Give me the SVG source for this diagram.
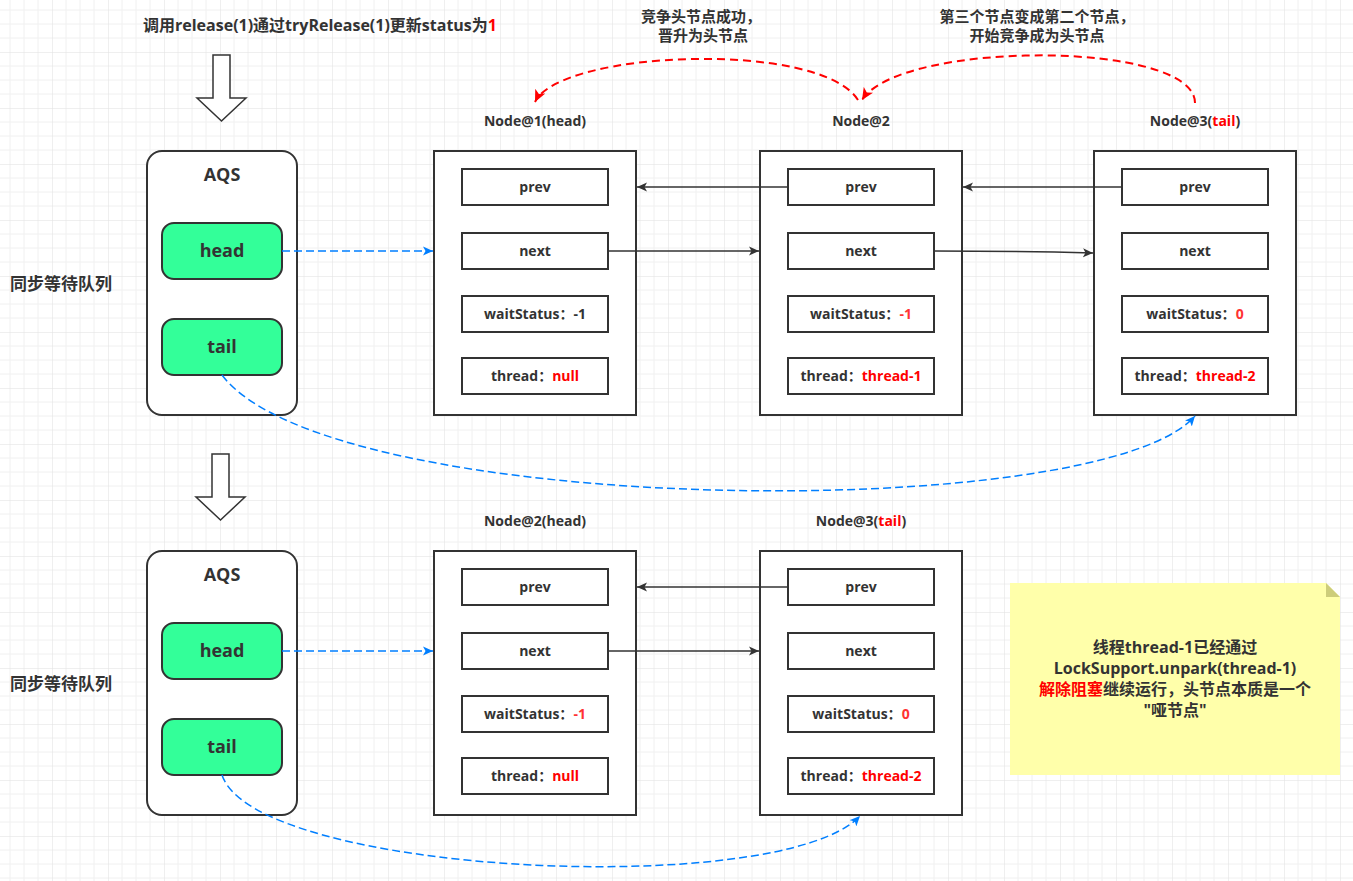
<svg xmlns="http://www.w3.org/2000/svg" width="1353" height="881" viewBox="0 0 1353 881">
<style>
.box{fill:#fff;stroke:#333;stroke-width:2}
.fld{fill:#fff;stroke:#333;stroke-width:2}
.aqs{fill:#fff;stroke:#333;stroke-width:2}
.ptr{fill:#33ff99;stroke:#333;stroke-width:2}
.t{font-family:"Open Sans","Noto Sans CJK SC",sans-serif;font-weight:bold;fill:#333}
.f{font-size:14px;text-anchor:middle}
.red{fill:#ff0000}
.lred{fill:#ff3333}
.conn{stroke:#333;stroke-width:1.5;fill:none}
.blue{stroke:#007fff;stroke-width:1.5;stroke-dasharray:8 4;fill:none}
.rdash{stroke:#ff0000;stroke-width:2;stroke-dasharray:8 5;fill:none}
.hollow{fill:#fff;stroke:#333;stroke-width:1.5}
</style>
<defs>
<pattern id="grid" patternUnits="userSpaceOnUse" x="-4" y="-4" width="56" height="56">
<path d="M14,0V56M28,0V56M42,0V56M0,14H56M0,28H56M0,42H56" stroke="#f0f0f0" stroke-width="1" fill="none"/>
<path d="M0,0V56M0,0H56" stroke="#e0e0e0" stroke-width="1" fill="none"/>
</pattern>
<marker id="ab" markerUnits="userSpaceOnUse" markerWidth="12" markerHeight="10" refX="10" refY="5" orient="auto">
<path d="M0,0.5L10,5L0,9.5L2.5,5z" fill="#333"/>
</marker>
<marker id="abl" markerUnits="userSpaceOnUse" markerWidth="12" markerHeight="10" refX="10" refY="5" orient="auto">
<path d="M0,0.5L10,5L0,9.5L2.5,5z" fill="#007fff"/>
</marker>
<marker id="ar" markerUnits="userSpaceOnUse" markerWidth="14" markerHeight="12" refX="12" refY="6" orient="auto">
<path d="M0,0.5L12,6L0,11.5L3,6z" fill="#ff0000"/>
</marker>
</defs>
<rect width="1353" height="881" fill="#fff"/>
<rect width="1353" height="881" fill="url(#grid)"/>

<text class="t" x="320" y="31" font-size="16" text-anchor="middle">调用release(1)通过tryRelease(1)更新status为<tspan class="red">1</tspan></text>
<text class="t" x="701" y="22" font-size="15" text-anchor="middle">竞争头节点成功，</text>
<text class="t" x="703" y="41" font-size="15" text-anchor="middle">晋升为头节点</text>
<text class="t" x="1037" y="22" font-size="15" text-anchor="middle">第三个节点变成第二个节点，</text>
<text class="t" x="1037" y="41" font-size="15" text-anchor="middle">开始竞争成为头节点</text>

<polygon class="hollow" points="213,55 230,55 230,98 246,98 221.5,121 197,98 213,98"/>
<polygon class="hollow" points="212,454 229,454 229,497 245,497 220.5,520 196,497 212,497"/>

<text class="t" x="61" y="290" font-size="17" text-anchor="middle">同步等待队列</text>
<text class="t" x="61" y="690" font-size="17" text-anchor="middle">同步等待队列</text>

<g id="aqs1">
<rect class="aqs" x="147" y="151" width="150" height="264" rx="15"/>
<text class="t" x="222" y="181" font-size="18" text-anchor="middle">AQS</text>
</g>
<g id="aqs1-head">
<rect class="ptr" x="162" y="223" width="120" height="56" rx="12"/>
<text class="t" x="222" y="257" font-size="18" text-anchor="middle">head</text>
</g>
<g id="aqs1-tail">
<rect class="ptr" x="162" y="319" width="120" height="56" rx="12"/>
<text class="t" x="222" y="353" font-size="18" text-anchor="middle">tail</text>
</g>

<g id="node1">
<text class="t" x="535" y="126" font-size="14" text-anchor="middle">Node@1(head)</text>
<rect class="box" x="434" y="151" width="202" height="264"/>
<rect class="fld" x="462" y="169" width="146" height="36"/>
<text class="t f" x="535" y="192">prev</text>
<rect class="fld" x="462" y="233" width="146" height="36"/>
<text class="t f" x="535" y="256">next</text>
<rect class="fld" x="462" y="296" width="146" height="36"/>
<text class="t f" x="535" y="319">waitStatus：-1</text>
<rect class="fld" x="462" y="358" width="146" height="36"/>
<text class="t f" x="535" y="381">thread：<tspan class="red">null</tspan></text>
</g>

<g id="node2">
<text class="t" x="861" y="126" font-size="14" text-anchor="middle">Node@2</text>
<rect class="box" x="760" y="151" width="202" height="264"/>
<rect class="fld" x="788" y="169" width="146" height="36"/>
<text class="t f" x="861" y="192">prev</text>
<rect class="fld" x="788" y="233" width="146" height="36"/>
<text class="t f" x="861" y="256">next</text>
<rect class="fld" x="788" y="296" width="146" height="36"/>
<text class="t f" x="861" y="319">waitStatus：<tspan class="lred">-1</tspan></text>
<rect class="fld" x="788" y="358" width="146" height="36"/>
<text class="t f" x="861" y="381">thread：<tspan class="red">thread-1</tspan></text>
</g>

<g id="node3">
<text class="t" x="1195" y="126" font-size="14" text-anchor="middle">Node@3(<tspan class="red">tail</tspan>)</text>
<rect class="box" x="1094" y="151" width="202" height="264"/>
<rect class="fld" x="1122" y="169" width="146" height="36"/>
<text class="t f" x="1195" y="192">prev</text>
<rect class="fld" x="1122" y="233" width="146" height="36"/>
<text class="t f" x="1195" y="256">next</text>
<rect class="fld" x="1122" y="296" width="146" height="36"/>
<text class="t f" x="1195" y="319">waitStatus：<tspan class="lred">0</tspan></text>
<rect class="fld" x="1122" y="358" width="146" height="36"/>
<text class="t f" x="1195" y="381">thread：<tspan class="red">thread-2</tspan></text>
</g>

<g id="aqs2">
<rect class="aqs" x="147" y="551" width="150" height="264" rx="15"/>
<text class="t" x="222" y="581" font-size="18" text-anchor="middle">AQS</text>
</g>
<g id="aqs2-head">
<rect class="ptr" x="162" y="623" width="120" height="56" rx="12"/>
<text class="t" x="222" y="657" font-size="18" text-anchor="middle">head</text>
</g>
<g id="aqs2-tail">
<rect class="ptr" x="162" y="719" width="120" height="56" rx="12"/>
<text class="t" x="222" y="753" font-size="18" text-anchor="middle">tail</text>
</g>

<g id="node2b">
<text class="t" x="535" y="526" font-size="14" text-anchor="middle">Node@2(head)</text>
<rect class="box" x="434" y="551" width="202" height="264"/>
<rect class="fld" x="462" y="569" width="146" height="36"/>
<text class="t f" x="535" y="592">prev</text>
<rect class="fld" x="462" y="633" width="146" height="36"/>
<text class="t f" x="535" y="656">next</text>
<rect class="fld" x="462" y="696" width="146" height="36"/>
<text class="t f" x="535" y="719">waitStatus：<tspan class="lred">-1</tspan></text>
<rect class="fld" x="462" y="758" width="146" height="36"/>
<text class="t f" x="535" y="781">thread：<tspan class="red">null</tspan></text>
</g>

<g id="node3b">
<text class="t" x="861" y="526" font-size="14" text-anchor="middle">Node@3(<tspan class="red">tail</tspan>)</text>
<rect class="box" x="760" y="551" width="202" height="264"/>
<rect class="fld" x="788" y="569" width="146" height="36"/>
<text class="t f" x="861" y="592">prev</text>
<rect class="fld" x="788" y="633" width="146" height="36"/>
<text class="t f" x="861" y="656">next</text>
<rect class="fld" x="788" y="696" width="146" height="36"/>
<text class="t f" x="861" y="719">waitStatus：<tspan class="lred">0</tspan></text>
<rect class="fld" x="788" y="758" width="146" height="36"/>
<text class="t f" x="861" y="781">thread：<tspan class="red">thread-2</tspan></text>
</g>

<g id="note">
<path d="M1010,583H1326L1340,597V775H1010z" fill="#ffffaa"/>
<path d="M1326,583L1340,597H1326z" fill="#cdcd7a"/>
<text class="t" x="1175" y="653" font-size="16" text-anchor="middle">线程thread-1已经通过</text>
<text class="t" x="1175" y="674" font-size="16" text-anchor="middle">LockSupport.unpark(thread-1)</text>
<text class="t" x="1175" y="695" font-size="16" text-anchor="middle"><tspan class="red">解除阻塞</tspan>继续运行，头节点本质是一个</text>
<text class="t" x="1175" y="716" font-size="16" text-anchor="middle">"哑节点"</text>
</g>

<g id="connectors">
<path class="conn" d="M788,187H637" marker-end="url(#ab)"/>
<path class="conn" d="M608,251H759" marker-end="url(#ab)"/>
<path class="conn" d="M1122,187H963" marker-end="url(#ab)"/>
<path class="conn" d="M934,251Q1014,251 1093,253" marker-end="url(#ab)"/>
<path class="blue" d="M282,251H433" marker-end="url(#abl)"/>
<path class="blue" d="M222,375C330,518 1100,525 1195,416" marker-end="url(#abl)"/>
<path class="rdash" d="M1195,103C1195,40 900,40 862,100" marker-end="url(#ar)"/>
<path class="rdash" d="M858,100C820,40 560,50 535,102" marker-end="url(#ar)"/>
<path class="conn" d="M788,587H637" marker-end="url(#ab)"/>
<path class="conn" d="M608,651H759" marker-end="url(#ab)"/>
<path class="blue" d="M282,651H433" marker-end="url(#abl)"/>
<path class="blue" d="M222,775C255,875 780,900 860,816" marker-end="url(#abl)"/>
</g>
</svg>
